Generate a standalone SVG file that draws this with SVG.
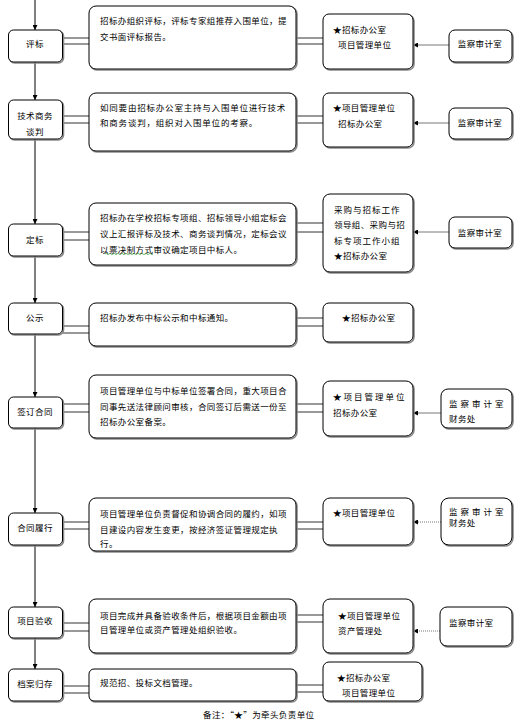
<svg xmlns="http://www.w3.org/2000/svg" width="529" height="722" viewBox="0 0 529 722">
<defs>
<style>
text{font-family:"Noto Sans CJK SC","Noto Sans",sans-serif;font-size:8.5px;fill:#000;dominant-baseline:central;letter-spacing:0.4px}
.c{text-anchor:middle}
.box{fill:#fff;stroke:#000;stroke-width:1}
.sh{fill:none;stroke:#8a8a8a;stroke-width:1.6}
.dl{stroke:#333;stroke-width:1}
.flow{stroke:#000;stroke-width:1;fill:none;marker-end:url(#ah)}
.side{stroke:#555;stroke-width:0.8;fill:none;marker-end:url(#ah)}
.dot{stroke:#555;stroke-width:0.8;fill:none;stroke-dasharray:1 1;marker-end:url(#ah)}
</style>
<marker id="ah" viewBox="0 0 10 10" refX="10" refY="5" markerWidth="5" markerHeight="5" markerUnits="userSpaceOnUse" orient="auto"><path d="M0,0 L10,5 L0,10 z" fill="#000"/></marker>
</defs>
<g id="connectors">
<line class="flow" x1="35" y1="0" x2="35" y2="30"/>
<line class="flow" x1="35" y1="62" x2="35" y2="100"/>
<line class="flow" x1="35" y1="139" x2="35" y2="224"/>
<line class="flow" x1="35" y1="256" x2="35" y2="303"/>
<line class="flow" x1="35" y1="334" x2="35" y2="397"/>
<line class="flow" x1="35" y1="428" x2="35" y2="513"/>
<line class="flow" x1="35" y1="545" x2="35" y2="607"/>
<line class="flow" x1="35" y1="638" x2="35" y2="669"/>
<g>
<line class="dl" x1="62" y1="38" x2="89" y2="38"/><line class="dl" x1="62" y1="44" x2="89" y2="44"/>
<line class="dl" x1="296" y1="38" x2="323" y2="38"/><line class="dl" x1="296" y1="44" x2="323" y2="44"/>
<line class="dl" x1="62" y1="116" x2="89" y2="116"/><line class="dl" x1="62" y1="123" x2="89" y2="123"/>
<line class="dl" x1="296" y1="116" x2="323" y2="116"/><line class="dl" x1="296" y1="123" x2="323" y2="123"/>
<line class="dl" x1="62" y1="232" x2="89" y2="232"/><line class="dl" x1="62" y1="240" x2="89" y2="240"/>
<line class="dl" x1="296" y1="223" x2="323" y2="223"/><line class="dl" x1="296" y1="232" x2="323" y2="232"/>
<line class="dl" x1="62" y1="326" x2="89" y2="326"/><line class="dl" x1="62" y1="333" x2="89" y2="333"/>
<line class="dl" x1="296" y1="318" x2="323" y2="318"/><line class="dl" x1="296" y1="326" x2="323" y2="326"/>
<line class="dl" x1="62" y1="404" x2="89" y2="404"/><line class="dl" x1="62" y1="412" x2="89" y2="412"/>
<line class="dl" x1="296" y1="404" x2="323" y2="404"/><line class="dl" x1="296" y1="412" x2="323" y2="412"/>
<line class="dl" x1="62" y1="522" x2="89" y2="522"/><line class="dl" x1="62" y1="529" x2="89" y2="529"/>
<line class="dl" x1="296" y1="522" x2="323" y2="522"/><line class="dl" x1="296" y1="529" x2="323" y2="529"/>
<line class="dl" x1="62" y1="623" x2="89" y2="623"/><line class="dl" x1="62" y1="631" x2="89" y2="631"/>
<line class="dl" x1="296" y1="615" x2="323" y2="615"/><line class="dl" x1="296" y1="622" x2="323" y2="622"/>
<line class="dl" x1="62" y1="686" x2="89" y2="686"/><line class="dl" x1="62" y1="693" x2="89" y2="693"/>
<line class="dl" x1="296" y1="685" x2="323" y2="685"/><line class="dl" x1="296" y1="692" x2="323" y2="692"/>
</g>
<line class="side" x1="449" y1="45" x2="413" y2="45"/>
<line class="side" x1="449" y1="123" x2="413" y2="123"/>
<line class="side" x1="449" y1="232" x2="413" y2="232"/>
<line class="side" x1="441" y1="413" x2="413" y2="413"/>
<line class="dot" x1="441" y1="522" x2="413" y2="522"/>
<line class="dot" x1="440" y1="631" x2="413" y2="631"/>
</g>

<g id="n1">
<rect class="sh" x="9.5" y="31" width="54" height="32" rx="5"/><rect class="box" x="8.5" y="30" width="54" height="32" rx="5"/>
<text class="c" x="35" y="43">评标</text>
</g>
<g id="m1">
<rect class="sh" x="90" y="7" width="207" height="63" rx="7"/><rect class="box" x="89" y="6" width="207" height="63" rx="7"/>
<text x="100" y="20">招标办组织评标，评标专家组推荐入围单位，提</text>
<text x="100" y="36">交书面评标报告。</text>
</g>
<g id="r1">
<rect class="sh" x="324" y="15" width="90" height="55" rx="6"/><rect class="box" x="323" y="14" width="90" height="55" rx="6"/>
<text x="333" y="29">★招标办公室</text>
<text x="338" y="44">项目管理单位</text>
</g>
<g id="f1">
<rect class="sh" x="450" y="31" width="63" height="32" rx="6"/><rect class="box" x="449" y="30" width="63" height="32" rx="6"/>
<text class="c" x="480" y="43">监察审计室</text>
</g>

<g id="n2">
<rect class="sh" x="9.5" y="101" width="54" height="39" rx="5"/><rect class="box" x="8.5" y="100" width="54" height="39" rx="5"/>
<text class="c" x="35" y="115">技术商务</text>
<text class="c" x="35" y="131">谈判</text>
</g>
<g id="m2">
<rect class="sh" x="90" y="94" width="207" height="58" rx="7"/><rect class="box" x="89" y="93" width="207" height="58" rx="7"/>
<text x="100" y="107" style="letter-spacing:0.8px">如同要由招标办公室主持与入围单位进行技术</text>
<text x="100" y="122" style="letter-spacing:0.8px">和商务谈判，组织对入围单位的考察。</text>
</g>
<g id="r2">
<rect class="sh" x="324" y="94" width="90" height="54" rx="6"/><rect class="box" x="323" y="93" width="90" height="54" rx="6"/>
<text x="333" y="107">★项目管理单位</text>
<text x="338" y="123">招标办公室</text>
</g>
<g id="f2">
<rect class="sh" x="450" y="109" width="63" height="31" rx="6"/><rect class="box" x="449" y="108" width="63" height="31" rx="6"/>
<text class="c" x="480" y="122">监察审计室</text>
</g>

<g id="n3">
<rect class="sh" x="9.5" y="225" width="54" height="32" rx="5"/><rect class="box" x="8.5" y="224" width="54" height="32" rx="5"/>
<text class="c" x="35" y="239">定标</text>
</g>
<g id="m3">
<rect class="sh" x="90" y="204" width="207" height="62" rx="7"/><rect class="box" x="89" y="203" width="207" height="62" rx="7"/>
<text x="100" y="217">招标办在学校招标专项组、招标领导小组定标会</text>
<text x="100" y="233">议上汇报评标及技术、商务谈判情况，定标会议</text>
<text x="100" y="249">以票决制方式审议确定项目中标人。</text>
<path d="M105,254 q1,-1.2 2,0 t2,0 t2,0 t2,0 t2,0 t2,0 t2,0 t2,0 t2,0 t2,0 t2,0 t2,0 t2,0 t2,0 t2,0 t2,0 t2,0 t2,0 t2,0 t2,0 t2,0 t2,0 t2,0 t2,0" fill="none" stroke="#3a9a3a" stroke-width="0.7"/>
</g>
<g id="r3">
<rect class="sh" x="324" y="195" width="90" height="78" rx="7"/><rect class="box" x="323" y="194" width="90" height="78" rx="7"/>
<text x="334" y="209" style="letter-spacing:1px">采购与招标工作</text>
<text x="334" y="224">领导组、采购与招</text>
<text x="334" y="240" style="letter-spacing:1px">标专项工作小组</text>
<text x="334" y="255">★招标办公室</text>
</g>
<g id="f3">
<rect class="sh" x="450" y="218" width="63" height="31" rx="6"/><rect class="box" x="449" y="217" width="63" height="31" rx="6"/>
<text class="c" x="480" y="232">监察审计室</text>
</g>

<g id="n4">
<rect class="sh" x="9.5" y="304" width="54" height="31" rx="5"/><rect class="box" x="8.5" y="303" width="54" height="31" rx="5"/>
<text class="c" x="35" y="317">公示</text>
</g>
<g id="m4">
<rect class="sh" x="90" y="304" width="207" height="43" rx="7"/><rect class="box" x="89" y="303" width="207" height="43" rx="7"/>
<text x="100" y="317">招标办发布中标公示和中标通知。</text>
</g>
<g id="r4">
<rect class="sh" x="324" y="304" width="90" height="39" rx="6"/><rect class="box" x="323" y="303" width="90" height="39" rx="6"/>
<text x="342" y="317">★招标办公室</text>
</g>

<g id="n5">
<rect class="sh" x="9.5" y="398" width="54" height="31" rx="5"/><rect class="box" x="8.5" y="397" width="54" height="31" rx="5"/>
<text class="c" x="35" y="411">签订合同</text>
</g>
<g id="m5">
<rect class="sh" x="90" y="376" width="207" height="63" rx="7"/><rect class="box" x="89" y="375" width="207" height="63" rx="7"/>
<text x="100" y="390">项目管理单位与中标单位签署合同，重大项目合</text>
<text x="100" y="406">同事先送法律顾问审核，合同签订后需送一份至</text>
<text x="100" y="421">招标办公室备案。</text>
</g>
<g id="r5">
<rect class="sh" x="324" y="382" width="90" height="55" rx="7"/><rect class="box" x="323" y="381" width="90" height="55" rx="7"/>
<text x="333" y="396" style="letter-spacing:2px">★项目管理单位</text>
<text x="333" y="412">招标办公室</text>
</g>
<g id="f5">
<rect class="sh" x="442" y="390" width="71" height="39" rx="7"/><rect class="box" x="441" y="389" width="71" height="39" rx="7"/>
<text x="449" y="403" style="letter-spacing:3px">监察审计室</text>
<text x="449" y="418">财务处</text>
</g>

<g id="n6">
<rect class="sh" x="9.5" y="514" width="54" height="32" rx="5"/><rect class="box" x="8.5" y="513" width="54" height="32" rx="5"/>
<text class="c" x="35" y="527">合同履行</text>
</g>
<g id="m6">
<rect class="sh" x="90" y="499" width="207" height="53" rx="7"/><rect class="box" x="89" y="498" width="207" height="53" rx="7"/>
<text x="100" y="513">项目管理单位负责督促和协调合同的履约，如项</text>
<text x="100" y="529">目建设内容发生变更，按经济签证管理规定执</text>
<text x="100" y="543">行。</text>
</g>
<g id="r6">
<rect class="sh" x="324" y="499" width="90" height="47" rx="7"/><rect class="box" x="323" y="498" width="90" height="47" rx="7"/>
<text x="333" y="512">★项目管理单位</text>
</g>
<g id="f6">
<rect class="sh" x="442" y="499" width="71" height="47" rx="8"/><rect class="box" x="441" y="498" width="71" height="47" rx="8"/>
<text x="449" y="511" style="letter-spacing:3px">监察审计室</text>
<text x="449" y="522">财务处</text>
</g>

<g id="n7">
<rect class="sh" x="9.5" y="608" width="54" height="31" rx="5"/><rect class="box" x="8.5" y="607" width="54" height="31" rx="5"/>
<text class="c" x="35" y="620">项目验收</text>
</g>
<g id="m7">
<rect class="sh" x="90" y="600" width="207" height="54" rx="7"/><rect class="box" x="89" y="599" width="207" height="54" rx="7"/>
<text x="100" y="615">项目完成并具备验收条件后，根据项目金额由项</text>
<text x="100" y="629">目管理单位或资产管理处组织验收。</text>
</g>
<g id="r7">
<rect class="sh" x="324" y="600" width="90" height="54" rx="7"/><rect class="box" x="323" y="599" width="90" height="54" rx="7"/>
<text x="338" y="615">★项目管理单位</text>
<text x="338" y="630">资产管理处</text>
</g>
<g id="f7">
<rect class="sh" x="441" y="608" width="72" height="39" rx="7"/><rect class="box" x="440" y="607" width="72" height="39" rx="7"/>
<text x="449" y="622">监察审计室</text>
</g>

<g id="n8">
<rect class="sh" x="9.5" y="670" width="54" height="32" rx="5"/><rect class="box" x="8.5" y="669" width="54" height="32" rx="5"/>
<text class="c" x="35" y="683">档案归存</text>
</g>
<g id="m8">
<rect class="sh" x="90" y="670" width="207" height="32" rx="5"/><rect class="box" x="89" y="669" width="207" height="32" rx="5"/>
<text x="100" y="682">规范招、投标文档管理。</text>
</g>
<g id="r8">
<rect class="sh" x="324" y="663" width="99" height="39" rx="6"/><rect class="box" x="323" y="662" width="99" height="39" rx="6"/>
<text x="337" y="677">★招标办公室</text>
<text x="342" y="692">项目管理单位</text>
</g>

<text x="203" y="714">备注：“★”为牵头负责单位</text>
</svg>
